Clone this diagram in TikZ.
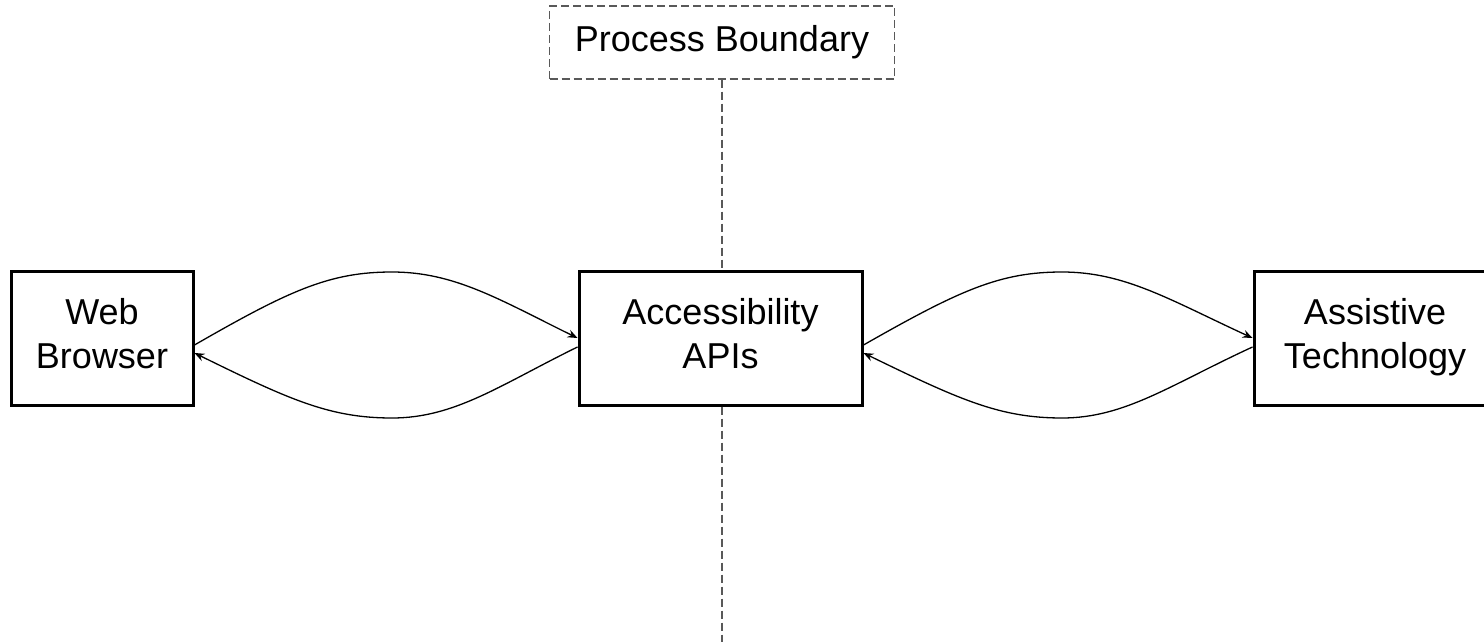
\documentclass[tikz,border=0pt]{standalone}
\usepackage{fontspec}
\setmainfont{Liberation Sans}
\usetikzlibrary{arrows.meta}
\begin{document}
\begin{tikzpicture}[x=1pt,y=-1pt,
  box/.style={draw=black,line width=3pt,fill=white,align=center,font=\fontsize{36}{44}\selectfont,inner sep=0pt},
  boundary/.style={draw=black!65,line width=1.3pt,dash pattern=on 8pt off 4pt,align=center,font=\fontsize{36}{44}\selectfont,inner sep=0pt},
  divider/.style={draw=black!65,line width=1.3pt,dash pattern=on 8pt off 4pt},
  link/.style={line width=1.3pt,-{Stealth[length=10pt,width=8pt,inset=3.5pt]}}]
\clip (0,0) rectangle (1484,642);
\fill[white] (0,0) rectangle (1484,642);
\node[boundary,minimum width=345pt,minimum height=73pt] (pb) at (722,42.5) {\strut Process Boundary};
\coordinate (bend) at (722,642);
\node[box,minimum width=182pt,minimum height=134pt] (wb) at (102,338) {\strut Web\\\strut Browser};
\node[box,minimum width=283pt,minimum height=134pt] (api) at (720.5,338) {\strut Accessibility\\\strut APIs};
\node[box,minimum width=242pt,minimum height=134pt] (at) at (1375,338) {\strut Assistive\\\strut Technology};
\draw[divider] (pb.south) -- (pb.south |- api.north);
\draw[divider] (pb.south |- api.south) -- (bend);
% left pair
\draw[link] (wb.east |- 0,345) .. controls (290,290) and (330,272) .. (392,272) .. controls (455,272) and (500,300) .. (api.west |- 0,338);
\draw[link] (api.west |- 0,347) .. controls (500,385) and (455,418) .. (392,418) .. controls (330,418) and (290,400) .. (wb.east |- 0,353);
% right pair
\draw[link] (api.east |- 0,345) .. controls (960,290) and (1000,272) .. (1062,272) .. controls (1125,272) and (1170,300) .. (at.west |- 0,338);
\draw[link] (at.west |- 0,347) .. controls (1170,385) and (1125,418) .. (1062,418) .. controls (1000,418) and (960,400) .. (api.east |- 0,353);
\end{tikzpicture}
\end{document}
